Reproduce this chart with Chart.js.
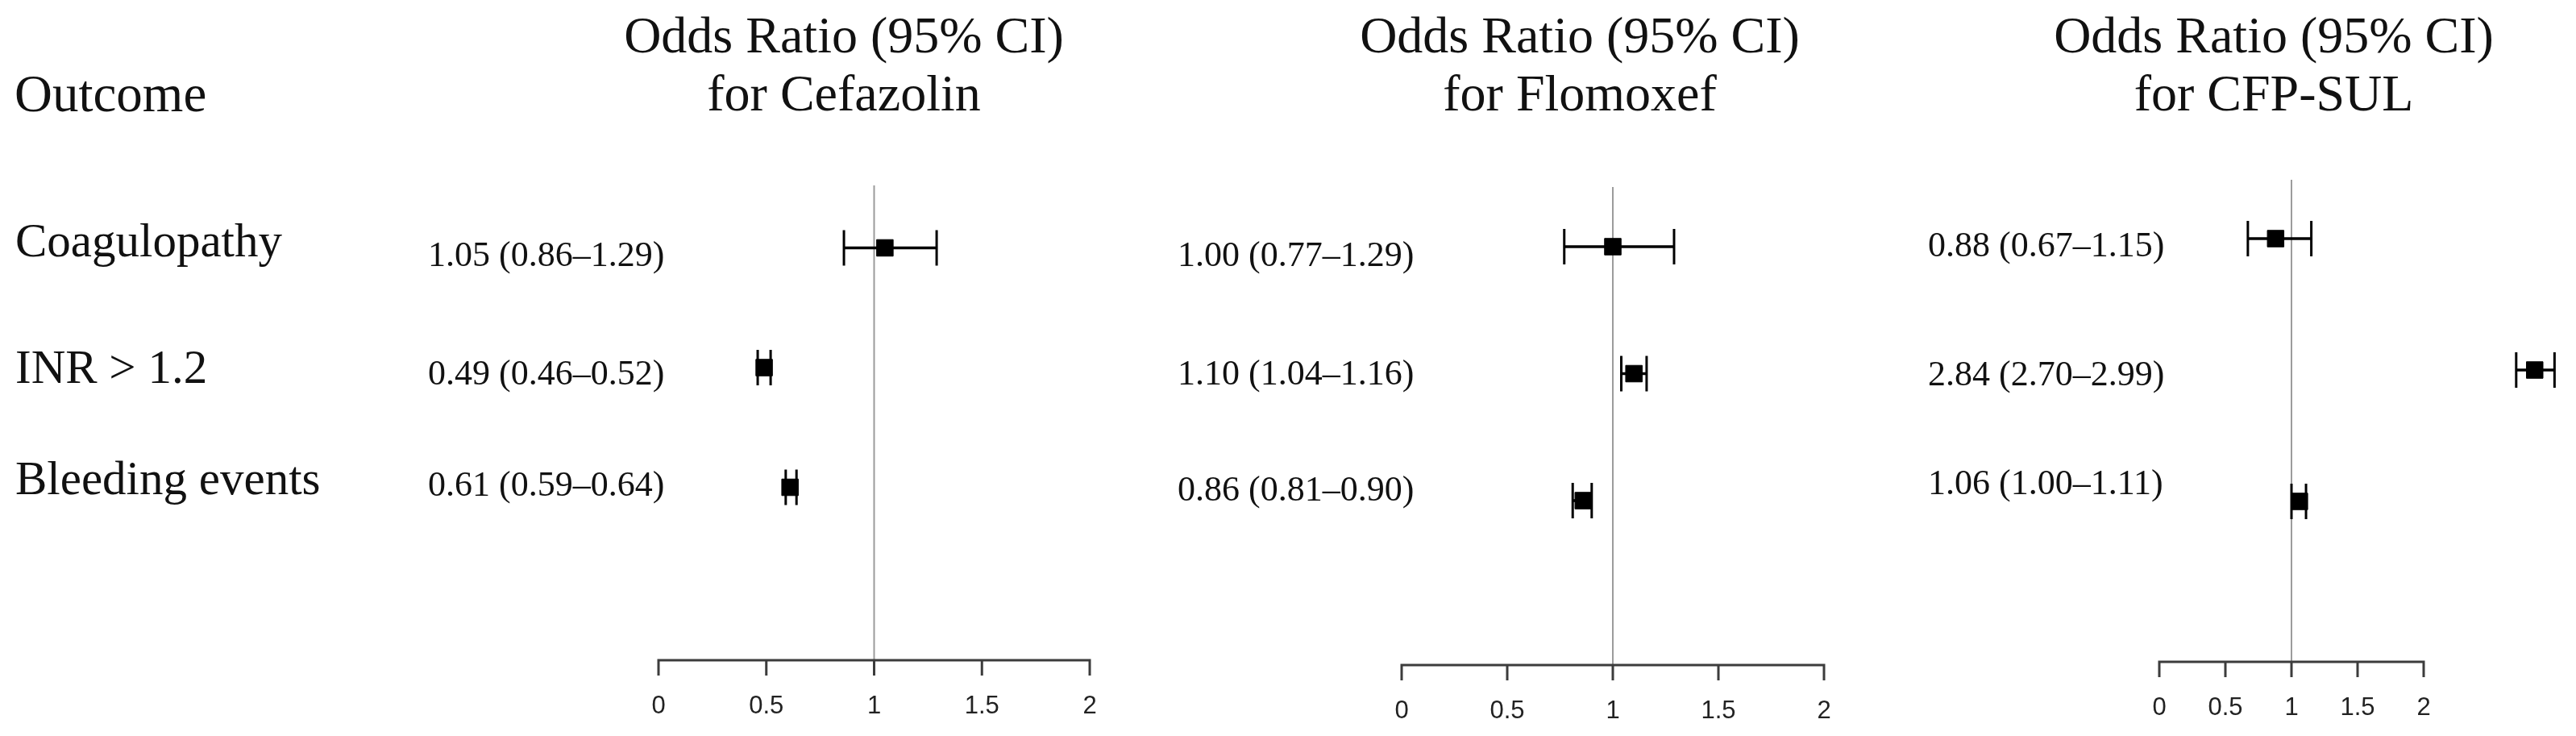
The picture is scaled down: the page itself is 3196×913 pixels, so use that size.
<!DOCTYPE html>
<html><head><meta charset="utf-8">
<script src="https://cdn.jsdelivr.net/npm/chart.js@4.4.0/dist/chart.umd.min.js"></script>
<style>
html,body{margin:0;padding:0;background:#fff;width:3196px;height:913px;overflow:hidden;position:relative}
canvas{position:absolute;top:0}
</style></head><body>
<canvas id="c0" width="1400" height="913" style="left:0px;width:1400px;height:913px"></canvas>
<canvas id="c1" width="950" height="913" style="left:1400px;width:950px;height:913px"></canvas>
<canvas id="c2" width="846" height="913" style="left:2350px;width:846px;height:913px"></canvas>
<script>
// ---- data ----
const outcomes = ['Coagulopathy', 'INR > 1.2', 'Bleeding events'];
const drugs = ['Cefazolin', 'Flomoxef', 'CFP-SUL'];
const cefazolinOR = [1.05, 0.49, 0.61];
const cefazolinLo = [0.86, 0.46, 0.59];
const cefazolinHi = [1.29, 0.52, 0.64];
const flomoxefOR = [1.00, 1.10, 0.86];
const flomoxefLo = [0.77, 1.04, 0.81];
const flomoxefHi = [1.29, 1.16, 0.90];
const cfpsulOR = [0.88, 2.84, 1.06];
const cfpsulLo = [0.67, 2.70, 1.00];
const cfpsulHi = [1.15, 2.99, 1.11];
const tickValues = [0, 0.5, 1, 1.5, 2];
const tickLabels = ['0', '0.5', '1', '1.5', '2'];
const columnTitle = 'Odds Ratio (95% CI)';
const outcomeHeader = 'Outcome';

// ---- layout (page pixel coordinates) ----
const panels = [
  {id:'c0', left:0, width:1400, drug:drugs[0], or:cefazolinOR, lo:cefazolinLo, hi:cefazolinHi,
   xMax:2, x0:817, x2:1352, row0:307.5, row2:604.5, refTop:230, axisY:819,
   textX:531, textBase:[330,477,615], titleX:1047, outcomeCol:true},
  {id:'c1', left:1400, width:950, drug:drugs[1], or:flomoxefOR, lo:flomoxefLo, hi:flomoxefHi,
   xMax:2, x0:1739, x2:2263, row0:306, row2:621, refTop:232, axisY:825,
   textX:1461, textBase:[330,477,621], titleX:1960, outcomeCol:false},
  {id:'c2', left:2350, width:846, drug:drugs[2], or:cfpsulOR, lo:cfpsulLo, hi:cfpsulHi,
   xMax:3, x0:2679, x2:3018, row0:296, row2:622, refTop:223, axisY:821,
   textX:2392, textBase:[318,478,613], titleX:2821, outcomeCol:false}
];
const H = 913;
const serif = '"Liberation Serif", "Times New Roman", serif';
const fmt = v => v.toFixed(2);

function makePlugin(p) {
  return {
    id: 'forest_' + p.id,
    beforeDatasetsDraw(chart) {
      const ctx = chart.ctx, xs = chart.scales.x;
      ctx.save();
      const xr = xs.getPixelForValue(1);
      ctx.strokeStyle = '#9c9c9c'; ctx.lineWidth = 2;
      ctx.beginPath(); ctx.moveTo(xr, p.refTop); ctx.lineTo(xr, p.axisY); ctx.stroke();
      ctx.strokeStyle = '#3c3c3c'; ctx.lineWidth = 3;
      const a0 = xs.getPixelForValue(tickValues[0]);
      const a1 = xs.getPixelForValue(tickValues[tickValues.length - 1]);
      ctx.beginPath(); ctx.moveTo(a0 - 1.5, p.axisY); ctx.lineTo(a1 + 1.5, p.axisY);
      tickValues.forEach(v => { const x = xs.getPixelForValue(v); ctx.moveTo(x, p.axisY); ctx.lineTo(x, p.axisY + 19); });
      ctx.stroke();
      ctx.fillStyle = '#222'; ctx.font = '31px "Liberation Sans", Arial, sans-serif';
      ctx.textAlign = 'center'; ctx.textBaseline = 'middle';
      tickValues.forEach((v, i) => ctx.fillText(tickLabels[i], xs.getPixelForValue(v), p.axisY + 57));
      ctx.restore();
    },
    afterDraw(chart) {
      const ctx = chart.ctx, L = p.left;
      ctx.save();
      ctx.fillStyle = '#111'; ctx.textBaseline = 'alphabetic';
      ctx.font = '64px ' + serif; ctx.textAlign = 'center';
      ctx.fillText(columnTitle, p.titleX - L, 65);
      ctx.fillText('for ' + p.drug, p.titleX - L, 137);
      ctx.font = '44px ' + serif; ctx.textAlign = 'left';
      p.or.forEach((v, i) => {
        ctx.fillText(fmt(v) + ' (' + fmt(p.lo[i]) + '\u2013' + fmt(p.hi[i]) + ')', p.textX - L, p.textBase[i]);
      });
      if (p.outcomeCol) {
        ctx.font = '65px ' + serif;
        ctx.fillText(outcomeHeader, 18 - L, 138);
        ctx.font = '59px ' + serif;
        const ob = [318, 475, 613];
        outcomes.forEach((o, i) => ctx.fillText(o, 19 - L, ob[i]));
      }
      ctx.restore();
    }
  };
}

panels.forEach(p => {
  const unit = (p.x2 - p.x0) / 2;
  const right = p.x0 + unit * p.xMax;
  const caps = [];
  p.lo.forEach((v, i) => { caps.push({x: v, y: outcomes[i]}); caps.push({x: p.hi[i], y: outcomes[i]}); });
  const pts = p.or.map((v, i) => ({x: v, y: outcomes[i]}));
  new Chart(document.getElementById(p.id), {
    type: 'bar',
    data: {
      labels: outcomes,
      datasets: [
        {type:'bar', indexAxis:'y', data: p.lo.map((v, i) => [v, p.hi[i]]),
         backgroundColor:'#000', borderWidth:0, barThickness:3, order:2, clip:false},
        {type:'scatter', data: caps, pointStyle:'line', rotation:90, pointRadius:22,
         pointBorderWidth:3, pointBorderColor:'#000', pointBackgroundColor:'#000', order:1, clip:false},
        {type:'scatter', data: pts, pointStyle:'rect', pointRadius:14.5,
         pointBorderWidth:1, pointBorderColor:'#000', pointBackgroundColor:'#000', order:0, clip:false}
      ]
    },
    options: {
      responsive:false, animation:false, events:[], indexAxis:'y',
      layout: {padding: {left: p.x0 - p.left, right: (p.left + p.width) - right, top: p.row0, bottom: H - p.row2}},
      plugins: {legend:{display:false}, tooltip:{enabled:false}, title:{display:false}},
      scales: {
        x: {type:'linear', min:0, max:p.xMax, display:false},
        y: {type:'category', labels: outcomes, offset:false, display:false}
      }
    },
    plugins: [makePlugin(p)]
  });
});
</script>
</body></html>
